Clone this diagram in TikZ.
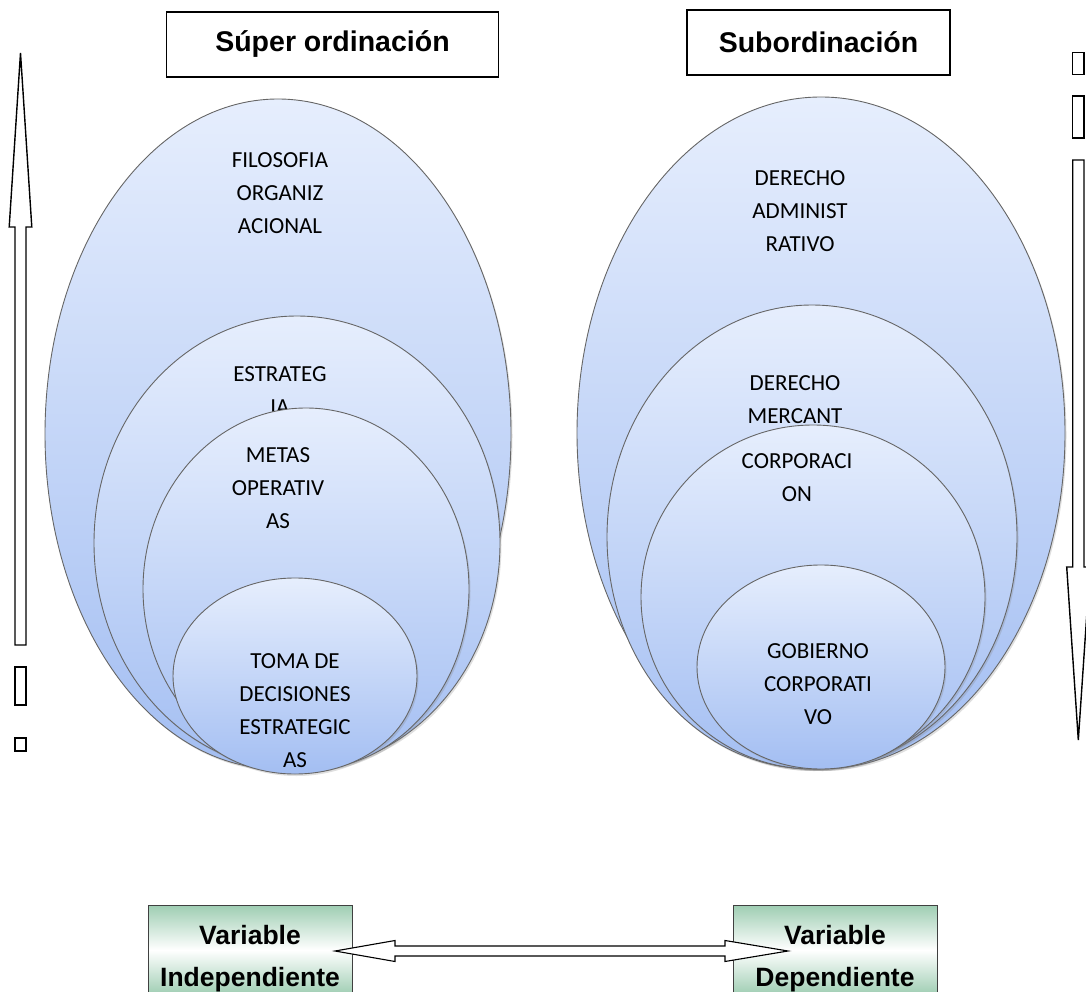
\documentclass[tikz,border=0pt]{standalone}
\usepackage{fontspec}
\setmainfont{Carlito}
\newfontfamily\headfont{Liberation Sans}
\usetikzlibrary{shapes.geometric,shadows}

\definecolor{blueTop}{HTML}{E6EEFD}
\definecolor{blueBot}{HTML}{A3BEF2}
\definecolor{varGreen}{HTML}{9ECDB2}

\tikzset{
  layer/.style={ellipse, draw=black!60, line width=0.9pt, inner sep=0pt,
    top color=blueTop, bottom color=blueBot,
    drop shadow={shadow xshift=1.5pt, shadow yshift=-2pt, opacity=0.25}},
  lbl/.style={font=\fontsize{23}{33}\selectfont, align=center, inner sep=0pt},
  titlebox/.style={draw=black, line width=1.4pt, fill=white, inner sep=0pt,
    font=\headfont\bfseries\fontsize{28.5}{34}\selectfont},
  varbox/.style={draw=black!75, line width=1pt, inner sep=0pt,
    top color=varGreen, bottom color=varGreen, middle color=white},
  vartext/.style={font=\headfont\bfseries\fontsize{26.5}{32}\selectfont,
    anchor=base, inner sep=0pt},
  outline/.style={draw=black, line width=1.4pt, fill=white, line join=miter}
}

\begin{document}
\begin{tikzpicture}[x=1pt, y=-1pt]
\useasboundingbox (0,0) rectangle (1086,992);
\clip (0,0) rectangle (1086,992);

% ---- left stack of layers
\node[layer, minimum width=466pt, minimum height=670pt] (supA) at (278,434) {};
\node[lbl] (supAtext) at (280,193) {FILOSOFIA\\ORGANIZ\\ACIONAL};
\node[layer, minimum width=406pt, minimum height=454pt] (supB) at (297,543) {};
\node[lbl] (supBtext) at (280,391) {ESTRATEG\\IA};
\node[layer, minimum width=326pt, minimum height=362pt] (supC) at (306,589) {};
\node[lbl] (supCtext) at (278,488) {METAS\\OPERATIV\\AS};
\node[layer, minimum width=244pt, minimum height=196pt] (supD) at (295,676) {};
\node[lbl] (supDtext) at (295,711) {TOMA DE\\DECISIONES\\ESTRATEGIC\\AS};

% ---- right stack of layers
\node[layer, minimum width=488pt, minimum height=672pt] (subA) at (821,433) {};
\node[lbl] (subAtext) at (800,211) {DERECHO\\ADMINIST\\RATIVO};
\node[layer, minimum width=410pt, minimum height=464pt] (subB) at (812,537) {};
\node[lbl] (subBtext) at (795,400) {DERECHO\\MERCANT};
\node[layer, minimum width=344pt, minimum height=344pt] (subC) at (813,597) {};
\node[lbl] (subCtext) at (797,478) {CORPORACI\\ON};
\node[layer, minimum width=248pt, minimum height=204pt] (subD) at (821,667) {};
\node[lbl] (subDtext) at (818,684) {GOBIERNO\\CORPORATI\\VO};

% ---- headings
\node[titlebox, minimum width=332pt, minimum height=65pt] (supTitle) at (332.5,44.5) {Súper ordinación};
\node[titlebox, minimum width=263pt, minimum height=65pt] (subTitle) at (818.5,42.5) {Subordinación};

% ---- upward arrow on the left
\draw[outline] (20.5,53) -- (31.8,227) -- (26,227) -- (26,645) -- (15,645)
  -- (15,227) -- (9.2,227) -- cycle;
\draw[outline] (15,667) rectangle (26,705);
\draw[outline] (15,738) rectangle (26,751);

% ---- downward arrow on the right
\draw[outline] (1072.7,52.7) rectangle (1084,74.3);
\draw[outline] (1072.7,96) rectangle (1084,138);
\draw[outline] (1072.7,160) -- (1084,160) -- (1084,567) -- (1090,567)
  -- (1078.3,740) -- (1066.7,567) -- (1072.7,567) -- cycle;

% ---- variables
\node[varbox, minimum width=204pt, minimum height=90pt] (indep) at (250,950) {};
\node[vartext] (indepA) at (250,944) {Variable};
\node[vartext] (indepB) at (250,986) {Independiente};
\node[varbox, minimum width=204pt, minimum height=90pt] (dep) at (835,950) {};
\node[vartext] (depA) at (835,944) {Variable};
\node[vartext] (depB) at (835,986) {Dependiente};

% two-way arrow linking the variables
\draw[outline, line width=1.1pt] (335,951) -- (395,940.5) -- (395,946) -- (725,946)
  -- (725,940.5) -- (788,951) -- (725,961.5) -- (725,956) -- (395,956)
  -- (395,961.5) -- cycle;
\end{tikzpicture}
\end{document}
